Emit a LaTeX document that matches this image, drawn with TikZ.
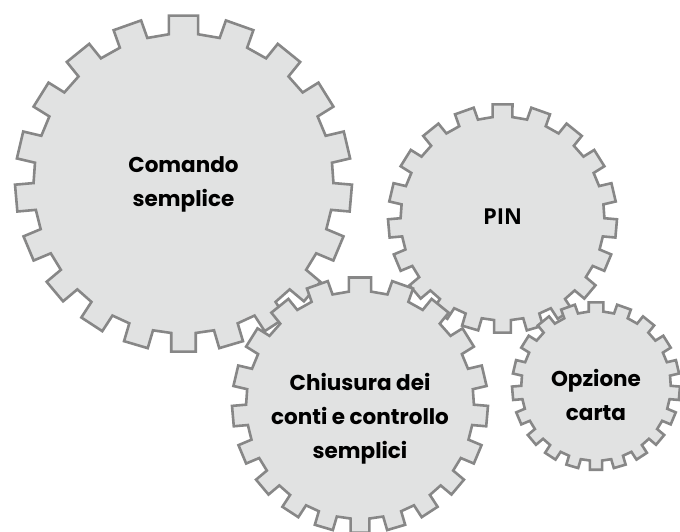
\documentclass[tikz,border=0pt]{standalone}
\usepackage{fontspec}
\newfontfamily\gearfont{Poppins}
\newfontfamily\pinfont{Open Sans}
\definecolor{gearfill}{HTML}{E1E2E2}
\definecolor{gearline}{HTML}{878787}
\tikzset{
  gear/.style={fill=gearfill, draw=gearline, line width=2.6pt, line join=miter},
  gearlabel/.style={font=\gearfont\bfseries\fontsize{21.5}{34}\selectfont, align=center, text=black},
  declare function={gx(\c,\r,\a)=\c+\r*cos(\a-5*cos(\a));
                    gy(\c,\r,\a)=\c-\r*sin(\a-5*cos(\a));}
}
% cog: centre x, centre y, outer radius, name
\newcommand{\cog}[4]{%
  \pgfmathsetmacro{\rin}{0.89*#3}
  \pgfmathsetmacro{\ha}{deg(0.08)}
  \pgfmathsetmacro{\hb}{deg(0.08*#3/\rin)}
  \filldraw[gear] ({gx(#1,\rin,90-\hb)},{gy(#2,\rin,90-\hb)})
    -- ({gx(#1,#3,90-\ha)},{gy(#2,#3,90-\ha)})
    -- ({gx(#1,#3,90+\ha)},{gy(#2,#3,90+\ha)})
    -- ({gx(#1,\rin,90+\hb)},{gy(#2,\rin,90+\hb)})
    \foreach \k in {1,...,19}{
      -- ({gx(#1,\rin,90+18*\k-\hb)},{gy(#2,\rin,90+18*\k-\hb)})
      -- ({gx(#1,#3,90+18*\k-\ha)},{gy(#2,#3,90+18*\k-\ha)})
      -- ({gx(#1,#3,90+18*\k+\ha)},{gy(#2,#3,90+18*\k+\ha)})
      -- ({gx(#1,\rin,90+18*\k+\hb)},{gy(#2,\rin,90+18*\k+\hb)})
    } -- cycle;
  \coordinate (#4) at (#1,#2);
}
\begin{document}
\begin{tikzpicture}[x=1pt, y=-1pt]
    \useasboundingbox (0,0) rectangle (680,531);
    \cog{183.5}{183.5}{168.5}{comando}
    \cog{502.5}{218.5}{114.5}{pin}
    \cog{360}{405}{128}{chiusura}
    \cog{596}{386}{84}{opzione}
    \node[gearlabel] (comandotxt) at ([yshift=-1]comando) {Comando\\semplice};
    \node[gearlabel, font=\pinfont\bfseries\fontsize{22}{26}\selectfont] (pintxt) at ([yshift=2]pin) {PIN};
    \node[gearlabel] (chiusuratxt) at ([yshift=-14]chiusura) {Chiusura dei\\conti e controllo\\semplici};
    \node[gearlabel] (opzionetxt) at ([yshift=-9]opzione) {Opzione\\carta};
\end{tikzpicture}
\end{document}
